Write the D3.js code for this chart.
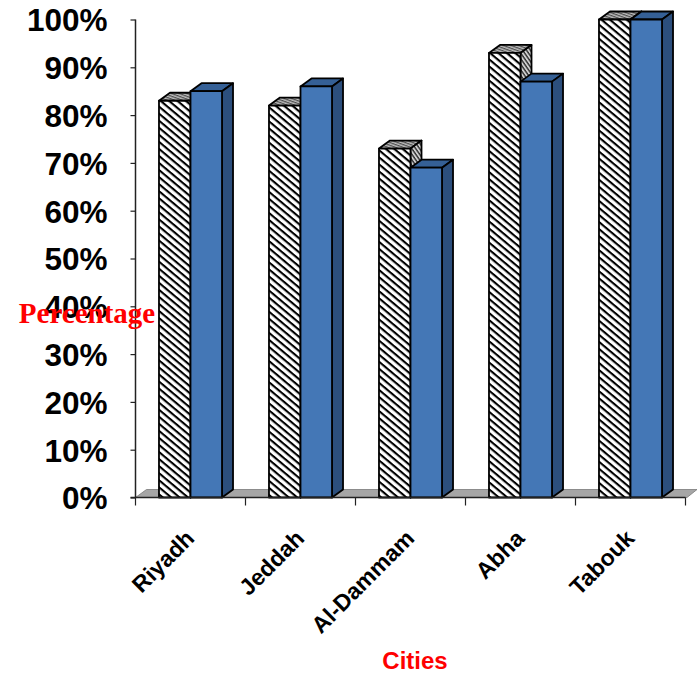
<!DOCTYPE html>
<html>
<head>
<meta charset="utf-8">
<script src="https://cdn.jsdelivr.net/npm/d3@7"></script>
<style>
html,body{margin:0;padding:0;background:#fff;}
svg{display:block;}
text{font-family:"Liberation Sans",Arial,sans-serif;font-weight:bold;}
</style>
</head>
<body>
<svg id="chart" width="697" height="673"></svg>
<script>
const cities = ["Riyadh", "Jeddah", "Al-Dammam", "Abha", "Tabouk"];
const hatchedValues = [83, 82, 73, 93, 100];
const blueValues = [85, 86, 69, 87, 100];
const yTicks = [0, 10, 20, 30, 40, 50, 60, 70, 80, 90, 100];

const svg = d3.select("#chart");
const depthX = 11, depthY = 8;

const x = d3.scaleBand().domain(cities).range([135.5, 685.5]).paddingInner(0.427).paddingOuter(0.2135);
const y = d3.scaleLinear().domain([0, 100]).range([497.5, 19.5]);
const barW = x.bandwidth() / 2;

// Stripe fills for the front, top and side of the hatched bars
const defs = svg.append("defs");
function stripes(id, size, bg, fg, sw, angle) {
  const p = defs.append("pattern").attr("id", id).attr("patternUnits", "userSpaceOnUse")
    .attr("width", size).attr("height", size).attr("patternTransform", `rotate(${angle})`);
  p.append("rect").attr("width", size).attr("height", size).attr("fill", bg);
  p.append("rect").attr("width", size).attr("height", sw).attr("fill", fg);
}
stripes("hatchFront", 5.4, "#fff", "#000", 2.1, 40);
stripes("hatchTop", 2.6, "#bdbdbd", "#4d4d4d", 1.2, 20);
stripes("hatchSide", 3.2, "#cfcfcf", "#2e2e2e", 1.4, 55);

// Floor of the 3D plot
svg.append("path")
  .attr("d", `M${x.range()[0]},${y(0)} l${depthX},${-depthY} H697 l-10,${depthY} Z`)
  .attr("fill", "#a6a6a6").attr("stroke", "#7a7a7a").attr("stroke-width", 0.8);

function bar3d(g, x0, value, front, top, side) {
  const yt = y(value), yb = y(0);
  const add = (d, fill) => g.append("path").attr("d", d).attr("fill", fill)
    .attr("stroke", "#000").attr("stroke-width", 1.8).attr("stroke-linejoin", "round");
  add(`M${x0},${yt} l${depthX},${-depthY} h${barW} l${-depthX},${depthY} Z`, top);
  add(`M${x0 + barW},${yt} l${depthX},${-depthY} V${yb - depthY} l${-depthX},${depthY} Z`, side);
  add(`M${x0},${yt} h${barW} V${yb} H${x0} Z`, front);
}

cities.forEach((c, i) => {
  const g = svg.append("g");
  bar3d(g, x(c), hatchedValues[i], "url(#hatchFront)", "url(#hatchTop)", "url(#hatchSide)");
  bar3d(g, x(c) + barW, blueValues[i], "#4477b6", "#356096", "#2c4f7d");
});

// Value axis
const yAxis = svg.append("g").attr("transform", `translate(${x.range()[0]},0)`)
  .call(d3.axisLeft(y).tickValues(yTicks).tickFormat(d => d + "%").tickSize(5).tickPadding(23));
yAxis.selectAll("path").remove();
yAxis.append("line").attr("y1", y(100)).attr("y2", y(0)).attr("stroke", "#222").attr("stroke-width", 1.5);
yAxis.selectAll(".tick line").attr("stroke", "#222").attr("stroke-width", 1.2);
yAxis.selectAll(".tick text").attr("fill", "#000").attr("dy", "0.36em").style("font-size", "31.5px");

// Category axis: ticks sit on band edges, labels are angled under the bars
const edges = d3.range(cities.length + 1).map(i => x.range()[0] + i * x.step());
const xAxisG = svg.append("g");
xAxisG.append("line").attr("x1", edges[0] - 5).attr("x2", edges[5]).attr("y1", y(0)).attr("y2", y(0))
  .attr("stroke", "#222").attr("stroke-width", 1.5);
xAxisG.selectAll("line.edge").data(edges).join("line").attr("class", "edge")
  .attr("x1", d => d).attr("x2", d => d).attr("y1", y(0)).attr("y2", y(0) + 8)
  .attr("stroke", "#222").attr("stroke-width", 1.2);
xAxisG.selectAll("text").data(cities).join("text")
  .attr("text-anchor", "end")
  .attr("transform", d => `translate(${x(d) + x.bandwidth() / 2 + 1},${y(0) + 38}) rotate(-45)`)
  .attr("dominant-baseline", "middle")
  .style("font-size", "23px").attr("fill", "#000")
  .text(d => d);

// Axis titles
svg.append("text").attr("x", 87).attr("y", 323).attr("text-anchor", "middle")
  .attr("fill", "#f00").style("font-family", '"Liberation Serif",serif').style("font-size", "29px")
  .text("Percentage");
svg.append("text").attr("x", 415).attr("y", 669).attr("text-anchor", "middle")
  .attr("fill", "#f00").style("font-size", "24px").text("Cities");
</script>
</body>
</html>
